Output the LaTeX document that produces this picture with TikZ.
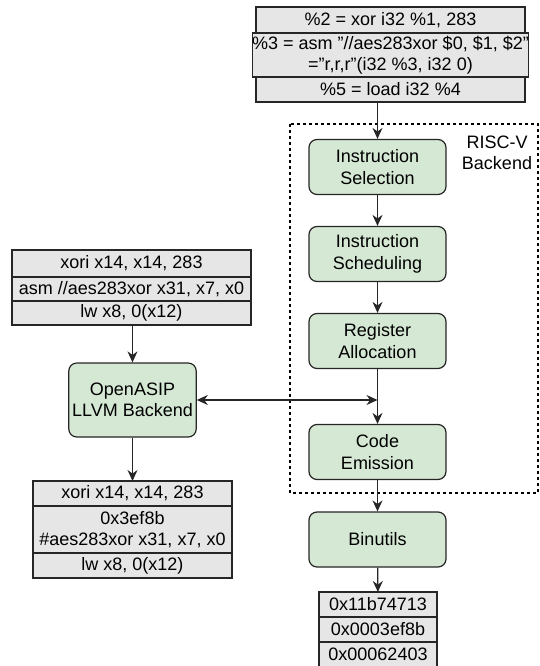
\documentclass[tikz,border=0pt]{standalone}
\usepackage{fontspec}
\setmainfont{Liberation Sans}
\usepackage{tikz}
\usetikzlibrary{arrows.meta,positioning,shapes}
\usepackage{xcolor}
\definecolor{cellgray}{HTML}{E6E6E6}
\definecolor{stagegreen}{HTML}{D5E8D4}
\definecolor{edgegray}{HTML}{262626}

\begin{document}
\begin{tikzpicture}[x=1pt,y=-1pt,
    font=\fontsize{18}{21.5}\selectfont,
    >={Stealth[length=11pt,width=10pt]},
    cell/.style={draw=edgegray,fill=cellgray,line width=1.2pt,inner sep=0pt,outer sep=0pt,align=center,anchor=north},
    stage/.style={draw=edgegray,fill=stagegreen,line width=1.2pt,rounded corners=8pt,
      minimum width=137pt,minimum height=55pt,align=center},
    flow/.style={->,line width=1.2pt,draw=black!85}]
      \useasboundingbox (0,0) rectangle (540,666);
      % LLVM IR input
      \node[cell,minimum width=269pt,minimum height=26pt] (ir1) at (390.5,7) {\%2 = xor i32 \%1, 283};
      \node[cell,minimum width=269pt,minimum height=44pt,below=0pt of ir1] (ir2) {\%3 = asm "//aes283xor \$0, \$1, \$2"\\="r,r,r"(i32 \%3, i32 0)};
      \node[cell,minimum width=269pt,minimum height=25pt,below=0pt of ir2] (ir3) {\%5 = load i32 \%4};
      % RISC-V backend
      \draw[dash pattern=on 3pt off 3pt,line width=1.2pt] (290,124) rectangle (538,493);
      \node[align=center] (rv) at (497,153) {RISC-V\\Backend};
      \node[stage] (sel) at (377.5,167) {Instruction\\Selection};
      \node[stage] (sched) at (377.5,254) {Instruction\\Scheduling};
      \node[stage] (reg) at (377.5,341) {Register\\Allocation};
      \node[stage] (emis) at (377.5,452) {Code\\Emission};
      \node[stage] (bin) at (377.5,539.5) {Binutils};
      % machine code
      \node[cell,minimum width=118pt,minimum height=25pt] (hex1) at (378,592) {0x11b74713};
      \node[cell,minimum width=118pt,minimum height=25pt,below=0pt of hex1] (hex2) {0x0003ef8b};
      \node[cell,minimum width=118pt,minimum height=25pt,below=0pt of hex2] (hex3) {0x00062403};
      % OpenASIP side
      \node[cell,minimum width=239pt,minimum height=27pt] (as1) at (131.5,250) {xori x14, x14, 283};
      \node[cell,minimum width=239pt,minimum height=24pt,below=0pt of as1] (as2) {asm //aes283xor x31, x7, x0};
      \node[cell,minimum width=239pt,minimum height=24pt,below=0pt of as2] (as3) {lw x8, 0(x12)};
      \node[stage,minimum width=125pt,minimum height=74pt] (asip) at (132.5,400) {OpenASIP\\LLVM Backend};
      \node[cell,minimum width=199pt,minimum height=25pt] (ob1) at (132.5,481) {xori x14, x14, 283};
      \node[cell,minimum width=199pt,minimum height=47pt,below=0pt of ob1] (ob2) {0x3ef8b\\\#aes283xor x31, x7, x0};
      \node[cell,minimum width=199pt,minimum height=25pt,below=0pt of ob2] (ob3) {lw x8, 0(x12)};
      % connectors
      \coordinate (join) at (reg.south |- asip.east);
      \draw[flow] (ir3.south -| sel.north) -- (sel);
      \draw[flow] (sel) -- (sched);
      \draw[flow] (sched) -- (reg);
      \draw[flow] (reg) -- (emis);
      \draw[flow] (emis) -- (bin);
      \draw[flow] (bin) -- (hex1);
      \draw[flow,<->] (asip) -- (join);
      \draw[flow] (as3.south -| asip.north) -- (asip);
      \draw[flow] (asip) -- (ob1.north -| asip.south);
    \end{tikzpicture}
\end{document}
